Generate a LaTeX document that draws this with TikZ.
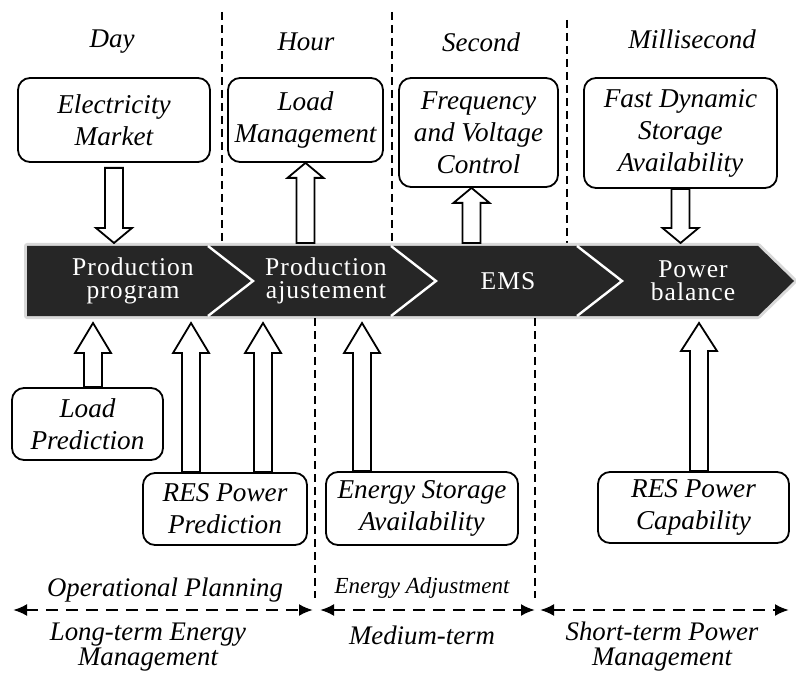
\documentclass[tikz,border=0pt]{standalone}
\usepackage{fontspec}
\setmainfont{Liberation Serif}
\usepackage{tikz}
\usetikzlibrary{positioning, arrows.meta, calc}
\definecolor{bandgray}{HTML}{262626}
\newcommand{\fatarrow}[3][7.5pt]{%
  \draw[blockarr] let \p1=(#2), \p2=(#3), \n1={sign(\y2-\y1)} in
    ({\x1-4.5pt},\y1) -- ({\x1-4.5pt},{\y2-#1*(\n1)}) -- ({\x1-9pt},{\y2-#1*(\n1)})
    -- (\x1,\y2) -- ({\x1+9pt},{\y2-#1*(\n1)}) -- ({\x1+4.5pt},{\y2-#1*(\n1)})
    -- ({\x1+4.5pt},\y1) -- cycle;}
\tikzset{
    box/.style={draw, line width=0.9pt, rounded corners=6pt, align=center, inner sep=2pt,
      font=\fontsize{13.6}{16}\selectfont\itshape},
    scalelabel/.style={font=\fontsize{13.5}{16}\selectfont\itshape},
    steplabel/.style={text=white, align=center, inner sep=1pt,
      font=\fontsize{12.8}{11.5}\selectfont\addfontfeature{LetterSpace=4}},
    termlabel/.style={align=center, font=\fontsize{13.4}{12.5}\selectfont\itshape},
    blockarr/.style={draw, fill=white, line width=0.9pt, line join=miter},
    sepline/.style={dash pattern=on 4pt off 2.5pt, line width=0.8pt},
    spanarrow/.style={dash pattern=on 6pt off 4pt, line width=1.2pt,
      {Latex[length=7pt,width=6pt]}-{Latex[length=7pt,width=6pt]}},
}
\begin{document}
\begin{tikzpicture}[x=0.5pt, y=-0.5pt]
    \useasboundingbox (0,0) rectangle (796,678);

    \coordinate (bandtop) at (0,243);
    \coordinate (bandlow) at (0,323);

    \node[scalelabel] (day) at (112,42) {Day};
    \node[scalelabel] (hour) at (306,42) {Hour};
    \node[scalelabel] (second) at (481,42) {Second};
    \node[scalelabel] (msec) at (692,39) {Millisecond};

    \coordinate (d1t) at (222,12);
    \coordinate (d2t) at (392,12);
    \coordinate (d3t) at (567,20);
    \draw[sepline] (d1t) -- (d1t |- bandtop);
    \draw[sepline] (d2t) -- (d2t |- bandtop);
    \draw[sepline] (d3t) -- (d3t |- bandtop);

    \node[box, minimum width=96pt, minimum height=42pt] (elec) at (114,120) {Electricity\\Market};
    \node[box, minimum width=77.5pt, minimum height=42pt] (loadm) at (305.5,120) {Load\\Management};
    \node[box, minimum width=79.5pt, minimum height=54.5pt] (freq) at (478.5,132.5) {Frequency\\and Voltage\\Control};
    \node[box, minimum width=96.5pt, minimum height=55pt] (fast) at (680.5,133) {Fast Dynamic\\Storage\\Availability};

    \draw[gray!30, line width=3pt, line join=round]
      (27,246) -- (758,246) -- (794,281) -- (758,316) -- (27,316) -- cycle;
    \fill[bandgray] (27,246) -- (758,246) -- (794,281) -- (758,316) -- (27,316) -- cycle;
    \foreach \sx in {208,391,577}
      \draw[white, line width=1.2pt] (\sx,246) -- (\sx+45,281) -- (\sx,316);

    \node[steplabel] (prog) at (133,281) {Production\\program};
    \node[steplabel] (adj) at (326,281) {Production\\ajustement};
    \node[steplabel] (ems) at (508,281) {EMS};
    \node[steplabel] (bal) at (693,281) {Power\\balance};

    \coordinate (elecout) at ($(elec.south)+(0,5)$);
    \fatarrow{elecout}{elecout |- bandtop}
    \fatarrow{loadm.south |- bandtop}{loadm.south}
    \coordinate (freqin) at ($(freq.south)+(-7,0)$);
    \fatarrow{freqin |- bandtop}{freqin}
    \fatarrow{fast.south}{fast.south |- bandtop}

    \node[box, minimum width=75.5pt, minimum height=36pt] (loadp) at (87.5,424) {Load\\Prediction};
    \node[box, minimum width=82pt, minimum height=36pt] (respred) at (225,509) {RES Power\\Prediction};
    \node[box, minimum width=96pt, minimum height=36.5pt] (estor) at (422,508.5) {Energy Storage\\Availability};
    \node[box, minimum width=95.5pt, minimum height=35.5pt] (rescap) at (693.5,507.5) {RES Power\\Capability};

    \coordinate (lpout) at ($(loadp.north)+(5.5,0)$);
    \coordinate (rp1) at ($(respred.north)+(-34,0)$);
    \coordinate (rp2) at ($(respred.north)+(38,0)$);
    \coordinate (esout) at ($(estor.north)+(-60,0)$);
    \coordinate (rcout) at ($(rescap.north)+(5.5,0)$);
    \fatarrow[15pt]{lpout}{lpout |- bandlow}
    \fatarrow[15pt]{rp1}{rp1 |- bandlow}
    \fatarrow[15pt]{rp2}{rp2 |- bandlow}
    \fatarrow[15pt]{esout}{esout |- bandlow}
    \fatarrow[14pt]{rcout}{rcout |- bandlow}

    \coordinate (d4t) at (315,318);
    \coordinate (d4b) at (315,598);
    \coordinate (d5t) at (535,318);
    \coordinate (d5b) at (535,598);
    \draw[sepline] (d4t) -- (d4b);
    \draw[sepline] (d5t) -- (d5b);

    \coordinate (s1l) at (13,610);
    \coordinate (s1r) at (313,610);
    \coordinate (s2l) at (320,610);
    \coordinate (s2r) at (535,610);
    \coordinate (s3l) at (540,610);
    \coordinate (s3r) at (789,610);
    \draw[spanarrow] (s1l) -- (s1r);
    \draw[spanarrow] (s2l) -- (s2r);
    \draw[spanarrow] (s3l) -- (s3r);

    \node[termlabel] (oplan) at (165,590) {Operational Planning};
    \node[termlabel, font=\fontsize{11.5}{12.5}\selectfont\itshape] (eadj) at (422,588) {Energy Adjustment};
    \node[termlabel] (lterm) at (148,647) {Long-term Energy\\Management};
    \node[termlabel] (mterm) at (422,635) {Medium-term};
    \node[termlabel] (sterm) at (662,647) {Short-term Power\\Management};
\end{tikzpicture}
\end{document}
